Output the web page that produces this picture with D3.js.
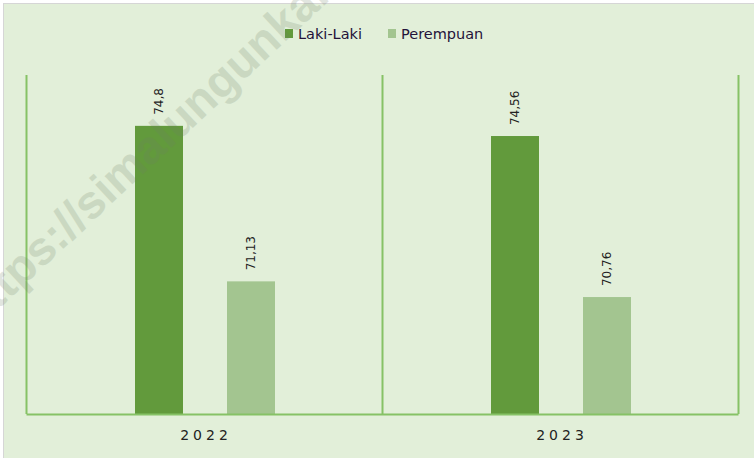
<!DOCTYPE html>
<html>
<head>
<meta charset="utf-8">
<script src="https://cdn.jsdelivr.net/npm/d3@7"></script>
<style>
  body { margin: 0; background: #ffffff; }
  svg { display: block; }
</style>
</head>
<body>
<div id="chart"></div>
<script>
// data
var years = ["2022", "2023"];
var seriesNames = ["Laki-Laki", "Perempuan"];
var lakiLaki = [74.8, 74.56];
var perempuan = [71.13, 70.76];
var valueLabels = [["74,8", "74,56"], ["71,13", "70,76"]];
var yDomain = [68, 76];

var colors = ["#629a3c", "#a3c590"];
var lineColor = "#86c266";

function drawChart() {
  var W = 754, H = 458;
  var margin = {top: 75, right: 16, bottom: 44, left: 26},
      width = 738 - margin.left,
      height = 414 - margin.top;

  var svg = d3.select("#chart").append("svg")
      .attr("width", W)
      .attr("height", H);

  // outer frame
  svg.append("rect")
      .attr("x", 3.5).attr("y", 3.5)
      .attr("width", W - 3).attr("height", H - 3)
      .attr("fill", "#e2efd9")
      .attr("stroke", "#d6d6d6");

  var g = svg.append("g")
      .attr("transform", "translate(" + margin.left + "," + margin.top + ")");

  var x0 = d3.scaleBand()
      .domain(years)
      .range([0, width])
      .padding(0);

  var x1 = d3.scaleBand()
      .domain(seriesNames)
      .range([109, x0.bandwidth() - 107])
      .paddingInner(44 / 140 * 2 / (1 + 44 / 140));

  var y = d3.scaleLinear()
      .domain(yDomain)
      .range([height, 0]);

  // vertical category separators
  g.selectAll(".sep")
      .data([0, 1, 2])
      .enter()
      .append("line")
      .attr("class", "sep")
      .attr("x1", function(d) { return Math.round(d * x0.bandwidth()) + 0.5; })
      .attr("x2", function(d) { return Math.round(d * x0.bandwidth()) + 0.5; })
      .attr("y1", 0)
      .attr("y2", height)
      .attr("stroke", lineColor)
      .attr("stroke-width", 2);

  var series = [lakiLaki, perempuan];

  series.forEach(function(vals, si) {
    g.selectAll(".bar" + si)
        .data(vals)
        .enter()
        .append("rect")
        .attr("class", "bar" + si)
        .attr("x", function(d, i) { return x0(years[i]) + x1(seriesNames[si]); })
        .attr("width", x1.bandwidth())
        .attr("y", function(d) { return y(d); })
        .attr("height", function(d) { return height - y(d); })
        .attr("fill", colors[si]);

    g.selectAll(".lbl" + si)
        .data(vals)
        .enter()
        .append("text")
        .attr("class", "lbl" + si)
        .attr("transform", function(d, i) {
          var cx = x0(years[i]) + x1(seriesNames[si]) + x1.bandwidth() / 2;
          return "translate(" + cx + "," + (y(d) - 11) + ") rotate(-90)";
        })
        .attr("dy", "0.35em")
        .style("text-anchor", "start")
        .style("font-family", "DejaVu Sans, sans-serif")
        .style("font-size", "12px")
        .style("fill", "#222")
        .text(function(d, i) { return valueLabels[si][i]; });
  });

  // x axis
  var xAxis = d3.axisBottom(x0).tickSize(0).tickPadding(16);
  var ax = g.append("g")
      .attr("class", "xAxis")
      .attr("transform", "translate(0," + height + ")")
      .call(xAxis);
  ax.select(".domain")
      .attr("stroke", lineColor)
      .attr("stroke-width", 2);
  ax.selectAll("text")
      .style("font-family", "DejaVu Sans, sans-serif")
      .style("font-size", "14px")
      .style("letter-spacing", "4px")
      .attr("dx", "2px")
      .style("fill", "#222");

  // legend
  var legendX = [285, 388];
  var legend = svg.selectAll(".legend")
      .data(seriesNames)
      .enter()
      .append("g")
      .attr("class", "legend")
      .attr("transform", function(d, i) { return "translate(" + legendX[i] + ",34)"; });
  legend.append("rect")
      .attr("x", 0).attr("y", -5)
      .attr("width", 8).attr("height", 9)
      .attr("fill", function(d, i) { return colors[i]; });
  legend.append("text")
      .attr("x", 13)
      .attr("dy", "0.35em")
      .style("font-family", "DejaVu Sans, sans-serif")
      .style("font-size", "14.5px")
      .style("fill", "#24123a")
      .text(function(d) { return d; });

  // watermark (cut by the chart edge, as in the source)
  svg.append("text")
      .attr("transform", "translate(-24,330) rotate(-43)")
      .style("font-family", "Liberation Sans, Arial, sans-serif")
      .style("font-weight", "bold")
      .style("font-size", "47px")
      .style("fill", "#6f7f66")
      .style("opacity", 0.2)
      .text("https://simalungunkab.bps.go.id");
}

drawChart();
</script>
</body>
</html>
